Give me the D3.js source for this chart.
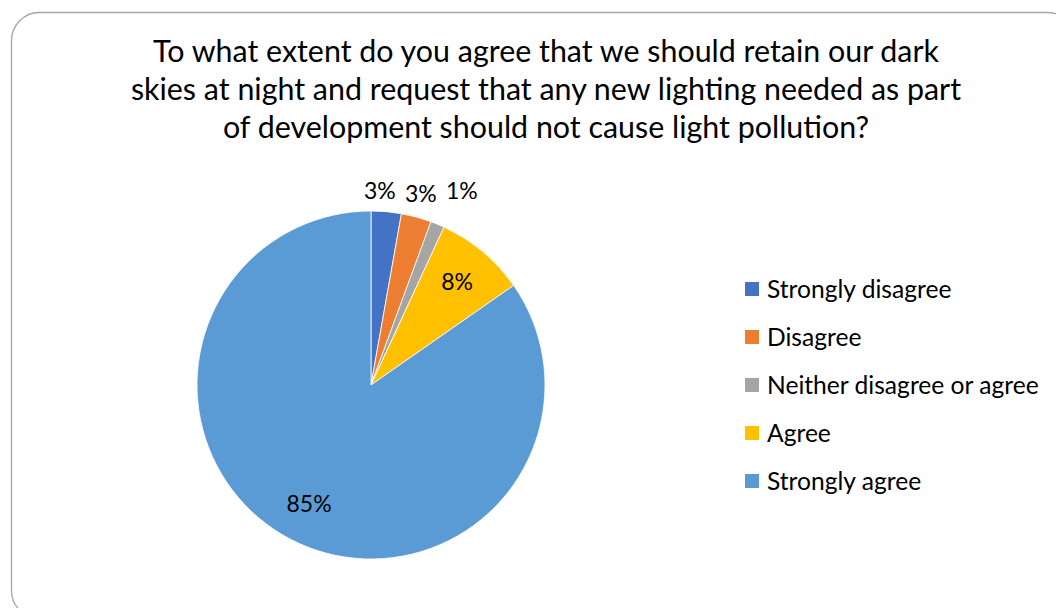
<!DOCTYPE html>
<html><head><meta charset="utf-8">
<script src="https://cdn.jsdelivr.net/npm/d3@7"></script>
<style>body{margin:0;background:#fff}svg{display:block}text{font-family:Lato,"Open Sans",sans-serif;fill:#000}</style>
</head><body>
<svg id="c" width="1056" height="608"></svg>
<script>
const categories = ["Strongly disagree","Disagree","Neither disagree or agree","Agree","Strongly agree"];
const values = [2.8, 2.8, 1.3, 8.4, 84.7];
const colors = ["#4472C4","#ED7D31","#A5A5A5","#FFC000","#5B9BD5"];
const titleLines = ["To what extent do you agree that we should retain our dark","skies at night and request that any new lighting needed as part","of development should not cause light pollution?"];

const svg = d3.select("#c");
svg.append("rect").attr("x",11.5).attr("y",12.5).attr("width",1064).attr("height",606).attr("rx",28)
  .attr("fill","#fff").attr("stroke","#a6a6a6").attr("stroke-width",1.3);

svg.append("g").selectAll("text").data(titleLines).join("text")
  .attr("x",546).attr("y",(d,i)=>62+i*38).attr("text-anchor","middle")
  .style("font-size","30.4px").text(d=>d);

const cx=371, cy=385, r=174;
const pie = d3.pie().sort(null).value(d=>d.v);
const data = pie(categories.map((c,i)=>({c,v:values[i],col:colors[i]})));
const arc = d3.arc().innerRadius(0).outerRadius(r);
const g = svg.append("g").attr("transform",`translate(${cx},${cy})`);
g.selectAll("path").data(data).join("path").attr("d",arc)
  .attr("fill",d=>d.data.col).attr("stroke","#fff").attr("stroke-width",0.8);

const fmt = v=>Math.round(v)+"%";
const inner = d3.arc().innerRadius(r*0.77).outerRadius(r*0.77);
const insideD = data.filter(d=>d.data.v>=5);
g.selectAll("text.in").data(insideD).join("text").attr("class","in")
  .attr("transform",d=>`translate(${inner.centroid(d)})`).attr("text-anchor","middle").attr("dy","0.35em")
  .style("font-size","23px").text(d=>fmt(d.data.v));

// outside labels: radial position then spread horizontally
const outsideD = data.filter(d=>d.data.v<5).map(d=>{
  const a=(d.startAngle+d.endAngle)/2; return {d, x:(r+22)*Math.sin(a)};});
const gap=41, mean=d3.mean(outsideD,o=>o.x);
outsideD.forEach((o,i)=>{o.x = mean + (i-(outsideD.length-1)/2)*gap;});
g.selectAll("text.out").data(outsideD).join("text").attr("class","out")
  .attr("x",o=>o.x+2).attr("y",(o,i)=>-r-20+(i===1?3:0)).attr("text-anchor","middle").attr("dy","0.35em")
  .style("font-size","23px").text(o=>fmt(o.d.data.v));

const lg = svg.append("g").attr("transform","translate(745,289)");
const rows = lg.selectAll("g").data(categories).join("g").attr("transform",(d,i)=>`translate(0,${i*48})`);
rows.append("rect").attr("x",0).attr("y",-7).attr("width",14).attr("height",14).attr("fill",(d,i)=>colors[i]);
rows.append("text").attr("x",22).attr("dy","0.35em").style("font-size","24.6px").text(d=>d);
</script>
</body></html>
